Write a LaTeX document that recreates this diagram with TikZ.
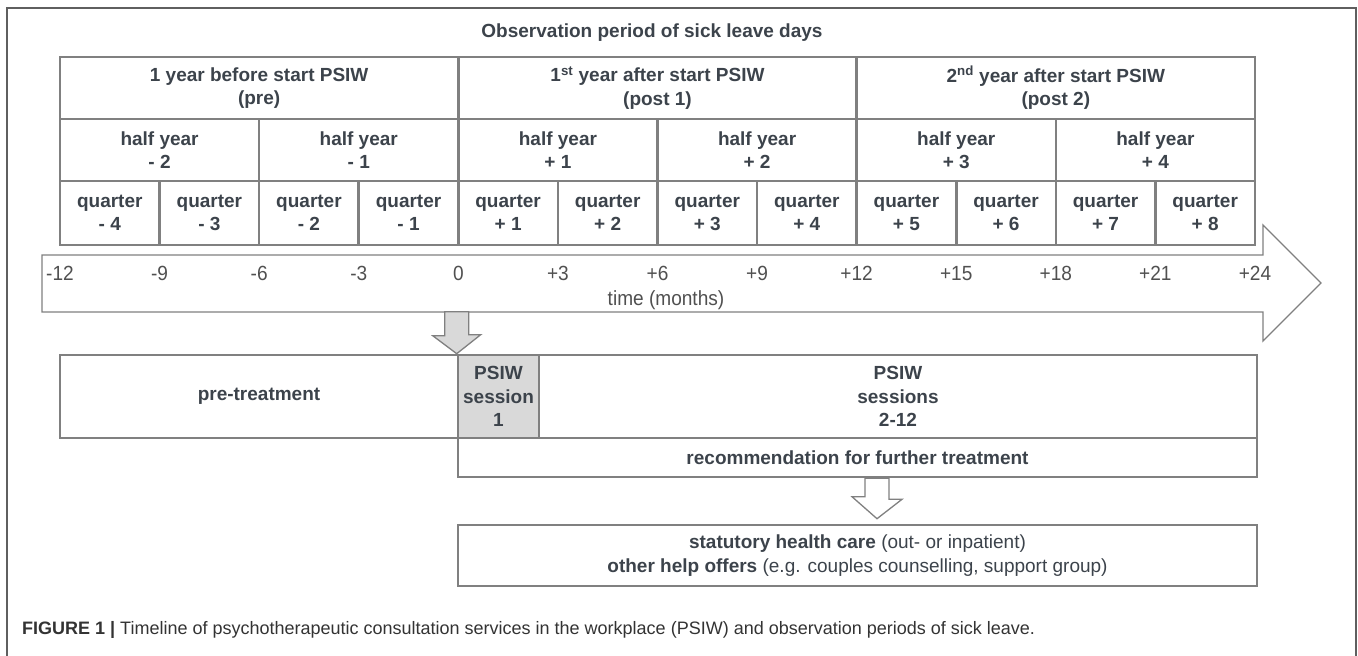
\documentclass[tikz,border=0pt]{standalone}
\usepackage{fontspec}
\setmainfont{Liberation Sans}
\newfontfamily\narrowfont[FakeStretch=0.93]{Liberation Sans}
\usetikzlibrary{calc}

\definecolor{linegray}{RGB}{128,128,128}
\definecolor{textdark}{RGB}{60,67,75}
\definecolor{labelgray}{RGB}{80,80,80}
\definecolor{sessgray}{RGB}{217,217,217}
\definecolor{framegray}{RGB}{95,95,95}

\newcommand\cellfont{\fontsize{19}{23.5}\selectfont\bfseries}
\newcommand\labelfont{\fontsize{20.5}{24}\selectfont\narrowfont}

\tikzset{
  cell/.style={draw=linegray, line width=2.6pt, font=\cellfont, text=textdark,
    align=center, inner sep=0pt},
  yearcell/.style={cell, minimum width=398.33pt, minimum height=62pt},
  halfcell/.style={cell, minimum width=199.17pt, minimum height=62pt},
  quartercell/.style={cell, minimum width=99.58pt, minimum height=64pt},
  timelabel/.style={font=\labelfont, text=labelgray, inner sep=0pt, anchor=base},
  box/.style={draw=linegray, line width=2.6pt, font=\cellfont, text=textdark,
    align=center, inner sep=0pt},
  blockarrow/.style={draw=linegray, line width=1.3pt, line join=miter}
}

\begin{document}
\begin{tikzpicture}[x=1pt,y=-1pt]
\useasboundingbox (0,0) rectangle (1358,656);
% frame, open at the bottom
\draw [framegray, line width=1.4pt] (7,660) |- (1356,8) -- (1356,660);

\node [font=\cellfont, text=textdark] (title) at (652,33) {Observation period of sick leave days};

% observation periods
\node [yearcell] (pre) at (259.17,88) {1 year before start PSIW\\(pre)};
\node [yearcell] (post1) at (657.5,88) {1\textsuperscript{st} year after start PSIW\\(post 1)};
\node [yearcell] (post2) at (1055.83,88) {2\textsuperscript{nd} year after start PSIW\\(post 2)};
\foreach \h [count=\i from 0] in {- 2,- 1,+ 1,+ 2,+ 3,+ 4}
  \node [halfcell] (h\i) at ({159.58+199.17*\i},150) {half year\\\h};
\foreach \q [count=\i from 0] in {- 4,- 3,- 2,- 1,+ 1,+ 2,+ 3,+ 4,+ 5,+ 6,+ 7,+ 8}
  \node [quartercell] (q\i) at ({109.79+99.58*\i},213) {quarter\\\q};

% time line
\draw [blockarrow, fill=white] (42,255) -- (1263,255) -- (1263,225) -- (1321,283)
  -- (1263,341) -- (1263,312) -- (42,312) -- cycle;
\foreach \t [count=\i from 0] in {-12,-9,-6,-3,0,+3,+6,+9,+12,+15,+18,+21,+24}
  \node [timelabel] (t\i) at ({60+99.58*\i},280) {\t};
\node [timelabel] (months) at (666,305) {time (months)};

% treatment
\node [box, minimum width=398pt, minimum height=83pt] (pretreat) at (259,396.5) {pre-treatment};
\node [box, fill=sessgray, minimum width=81pt, minimum height=83pt] (sess1) at (498.5,396.5) {PSIW\\session\\1};
\node [box, minimum width=718pt, minimum height=83pt] (sess2) at (898,396.5) {PSIW\\sessions\\2-12};
\node [box, minimum width=799pt, minimum height=39pt] (recom) at (857.5,457.5) {recommendation for further treatment};
\node [box, minimum width=799pt, minimum height=61pt] (care) at (857.5,555.5)
  {statutory health care \mdseries(out- or inpatient)\\
   other help offers \mdseries(e.g. couples counselling, support group)};

% block arrows
\draw [blockarrow, fill=sessgray] ($(sess1.north west)+(-12,-42)$) -- ++(24,0) -- ++(0,23)
  -- ++(12,0) -- (sess1.north west) -- ++(-24,-18) -- ++(12,0) -- cycle;
\coordinate (tip) at ($(care.north)+(19.5,-5)$);
\draw [blockarrow, fill=white] ($(recom.south)+(7.5,0)$) -- ++(24,0) -- ++(0,21)
  -- ++(13,0) -- (tip) -- ++(-25,-22) -- ++(13,0) -- cycle;

% caption
\node [anchor=west, font=\fontsize{18}{21}\selectfont, text=black!80, inner sep=0pt] (caption) at (22,630)
  {\textbf{FIGURE 1 |} Timeline of psychotherapeutic consultation services in the workplace (PSIW) and observation periods of sick leave.};
\end{tikzpicture}
\end{document}
